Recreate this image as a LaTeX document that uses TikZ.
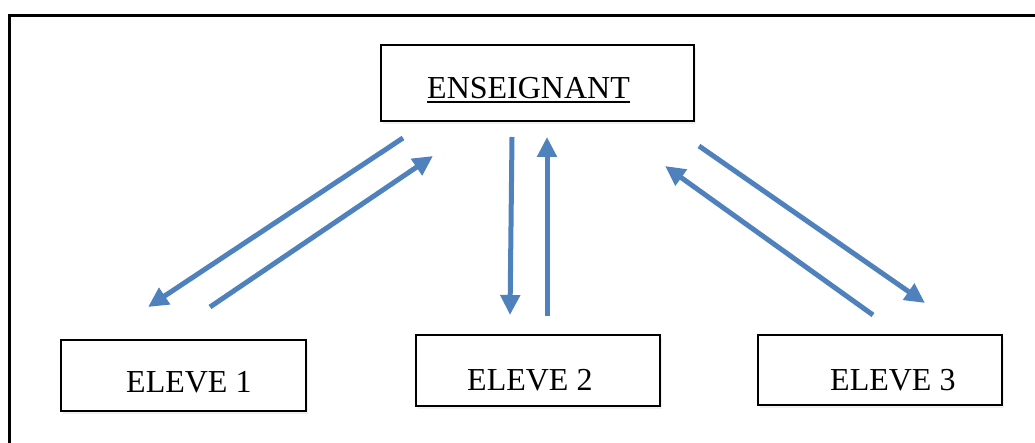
\documentclass[tikz,border=0pt]{standalone}
\usepackage{fontspec}
\setmainfont{Liberation Serif}
\usetikzlibrary{arrows.meta,shadows}
\definecolor{arrowblue}{HTML}{4F81BD}
\tikzset{
  box/.style={draw=black, line width=1.8pt, fill=white, inner sep=0pt,
    drop shadow={opacity=0.12, shadow xshift=2pt, shadow yshift=-3pt}},
  lbl/.style={inner sep=0pt, anchor=base west, font=\fontsize{32}{36}\selectfont},
  arr/.style={draw=arrowblue, line width=5pt, -{Triangle[length=20pt,width=19pt]}},
  frame/.style={draw=black, line width=3pt}
}
\begin{document}
\begin{tikzpicture}[x=1pt,y=-1pt]
\useasboundingbox (0,0) rectangle (1035,443);
% frame
\coordinate (fbl) at (9,445);
\coordinate (ftl) at (9,16);
\coordinate (ftr) at (1037,16);
\draw[frame] (fbl) -- (ftl) -- (ftr);
% boxes
\node[box, minimum width=313pt, minimum height=76pt] (ens) at (537.5,83) {};
\node[box, minimum width=245pt, minimum height=71pt] (e1) at (183.5,375.5) {};
\node[box, minimum width=244pt, minimum height=71pt] (e2) at (538,370.5) {};
\node[box, minimum width=244pt, minimum height=70pt] (e3) at (880,370) {};
% labels
\node[lbl] (enst) at (427,99) {ENSEIGNANT};
\draw[line width=1.8pt] ([yshift=-2.8pt]enst.base west) -- ([yshift=-2.8pt]enst.base east);
\node[lbl] (e1t) at (126,392) {ELEVE 1};
\node[lbl] (e2t) at (467,390) {ELEVE 2};
\node[lbl] (e3t) at (830,390) {ELEVE 3};
% arrow end points
\coordinate (a1s) at (403,138); \coordinate (a1e) at (148,307);
\coordinate (a2s) at (210,307); \coordinate (a2e) at (433,156);
\coordinate (a3s) at (512,137); \coordinate (a3e) at (510,315);
\coordinate (a4s) at (547,316); \coordinate (a4e) at (547,137);
\coordinate (a5s) at (699,146); \coordinate (a5e) at (925,303);
\coordinate (a6s) at (873,315); \coordinate (a6e) at (665,166);
\draw[arr] (a1s) -- (a1e);
\draw[arr] (a2s) -- (a2e);
\draw[arr] (a3s) -- (a3e);
\draw[arr] (a4s) -- (a4e);
\draw[arr] (a5s) -- (a5e);
\draw[arr] (a6s) -- (a6e);
\end{tikzpicture}
\end{document}
